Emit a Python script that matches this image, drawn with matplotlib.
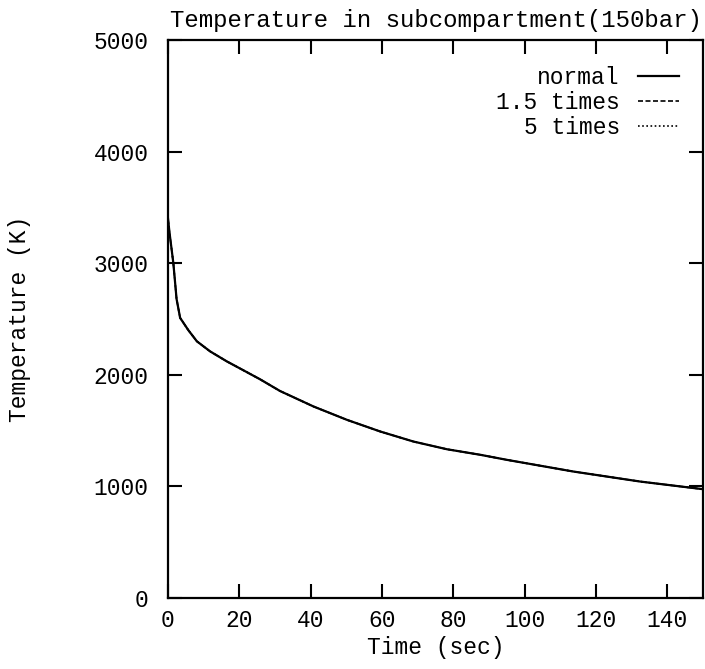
import matplotlib
matplotlib.use("Agg")
import matplotlib.pyplot as plt

# Data
time_normal = [0, 0.4, 1.5, 2.4, 3.4, 5.7, 8.1, 11.8, 16.5, 20, 25.8, 31.4,
               40.8, 50.2, 59.5, 68.8, 78.2, 87.6, 95, 113.7, 132.5, 150]
temp_normal = [3400, 3280, 3000, 2680, 2510, 2400, 2300, 2210, 2120, 2060, 1960,
               1855, 1716, 1596, 1492, 1402, 1333, 1283, 1238, 1133, 1043, 975]
# the other two cases overlap the normal curve in the picture
time_15 = list(time_normal)
temp_15 = list(temp_normal)
time_5 = list(time_normal)
temp_5 = list(temp_normal)

labels = ["normal", "1.5 times", "5 times"]
xticks = [0, 20, 40, 60, 80, 100, 120, 140]
yticks = [0, 1000, 2000, 3000, 4000, 5000]

plt.rcParams['font.family'] = ['Liberation Mono', 'DejaVu Sans Mono']
FS = 16.5

fig = plt.figure(figsize=(7.05, 6.69), dpi=100)
ax = fig.add_axes([168/705, 1-598/669, (703-168)/705, (598-40)/669])

ax.plot(time_normal, temp_normal, color='black', lw=1.6, ls='-', label=labels[0])
ax.plot(time_15, temp_15, color='black', lw=1.2, ls=(0, (3, 1.5)), label=labels[1])
ax.plot(time_5, temp_5, color='black', lw=1.2, ls=(0, (1, 1.5)), label=labels[2])

ax.set_xlim(0, 150)
ax.set_ylim(0, 5000)
ax.set_xticks(xticks)
ax.set_yticks(yticks)
ax.tick_params(direction='in', length=10, width=1.5, top=True, right=True,
               labelsize=FS)
ax.tick_params(axis='x', pad=8)
ax.tick_params(axis='y', pad=14)
for s in ax.spines.values():
    s.set_linewidth(1.6)

ax.set_title("Temperature in subcompartment(150bar)", fontsize=17.3, pad=9)
ax.set_xlabel("Time (sec)", fontsize=FS, labelpad=3)
ax.set_ylabel("Temperature (K)", fontsize=FS, labelpad=45)

leg = ax.legend(loc='upper right', bbox_to_anchor=(0.973, 0.97), frameon=False,
                fontsize=FS, markerfirst=False, handlelength=1.8,
                handletextpad=0.8, labelspacing=0.1, borderaxespad=0)

fig.savefig("out.png", dpi=100)
